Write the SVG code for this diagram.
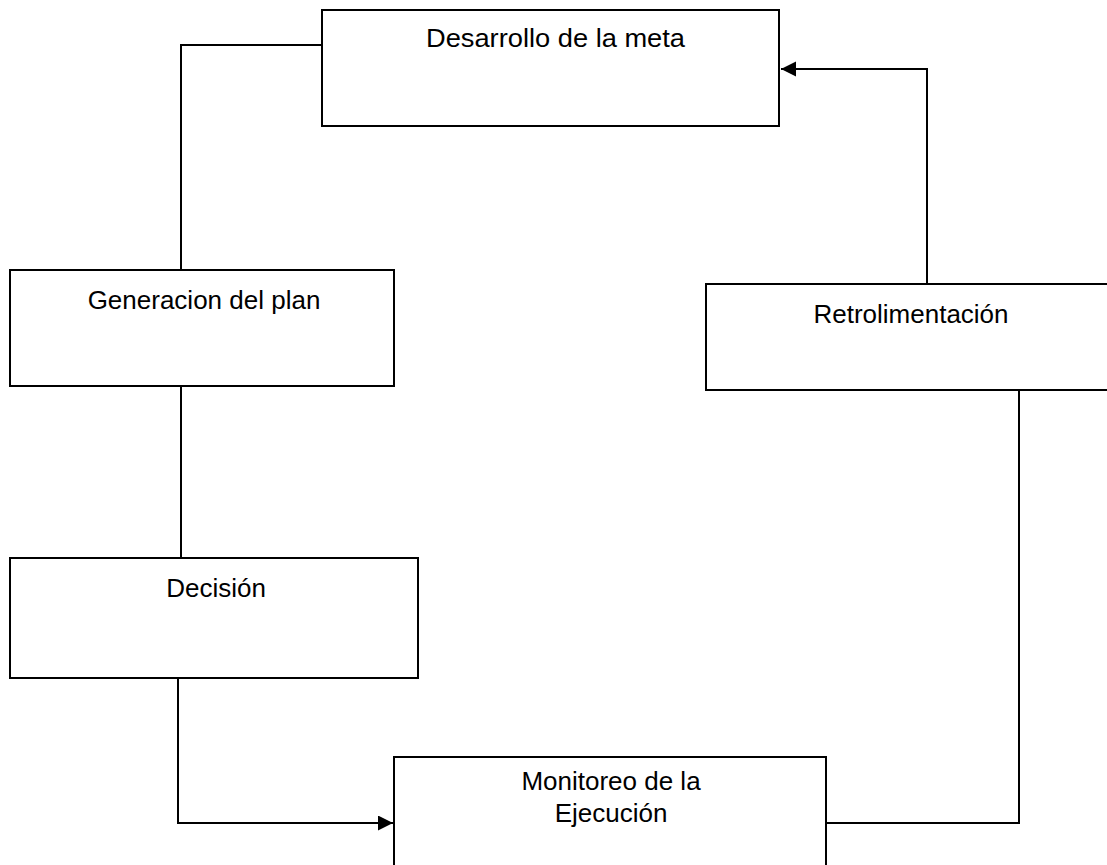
<svg xmlns="http://www.w3.org/2000/svg" width="1107" height="865" viewBox="0 0 1107 865">
<style>
.box{fill:#fff;stroke:#000;stroke-width:2}
.lbl{font-family:"Liberation Sans",Arial,sans-serif;font-size:26px;fill:#000;text-anchor:middle}
.con{fill:none;stroke:#000;stroke-width:2}
</style>
<defs>
<marker id="arr" markerUnits="userSpaceOnUse" markerWidth="16" markerHeight="16" refX="15" refY="7.5" orient="auto">
<path d="M0,0 L15,7.5 L0,15 Z" fill="#000"/>
</marker>
</defs>
<rect width="1107" height="865" fill="#fff"/>
<g id="connectors">
<polyline class="con" points="322,45 181,45 181,270"/>
<polyline class="con" points="181,386 181,558"/>
<polyline class="con" points="178,678 178,823 393,823" marker-end="url(#arr)"/>
<polyline class="con" points="826,823 1019,823 1019,390"/>
<polyline class="con" points="927,284 927,69 781,69" marker-end="url(#arr)"/>
</g>
<g id="desarrollo">
<rect class="box" x="322" y="10" width="457" height="116"/>
<text class="lbl" x="555.5" y="47" textLength="259" lengthAdjust="spacingAndGlyphs">Desarrollo de la meta</text>
</g>
<g id="generacion">
<rect class="box" x="10" y="270" width="384" height="116"/>
<text class="lbl" x="204" y="309">Generacion del plan</text>
</g>
<g id="decision">
<rect class="box" x="10" y="558" width="408" height="120"/>
<text class="lbl" x="216" y="597">Decisión</text>
</g>
<g id="monitoreo">
<rect class="box" x="394" y="757" width="432" height="120"/>
<text class="lbl" x="611" y="790">Monitoreo de la</text>
<text class="lbl" x="611" y="822">Ejecución</text>
</g>
<g id="retro">
<rect class="box" x="706" y="284" width="420" height="106"/>
<text class="lbl" x="911" y="323">Retrolimentación</text>
</g>
</svg>
